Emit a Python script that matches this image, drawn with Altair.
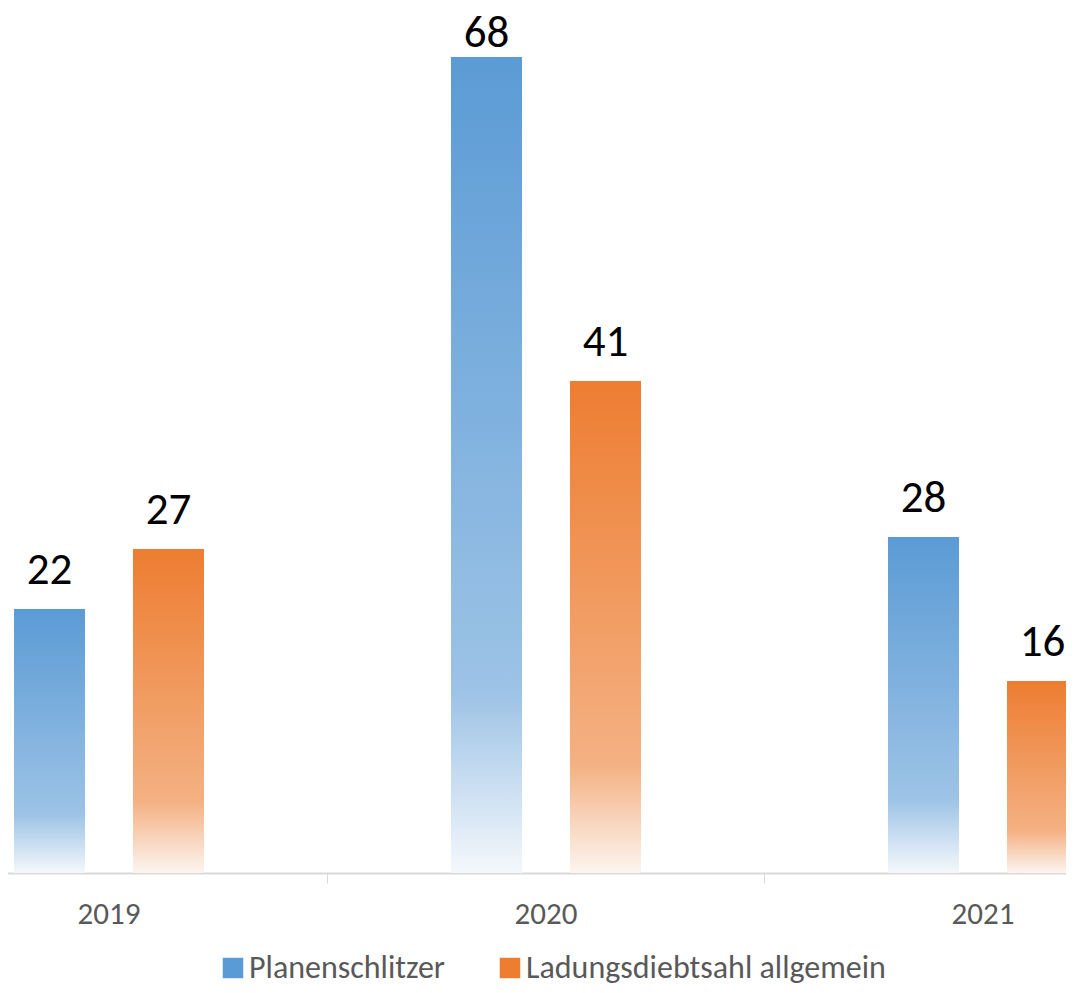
import altair as alt
import pandas as pd

years = ["2019", "2020", "2021"]
series_names = ["Planenschlitzer", "Ladungsdiebtsahl allgemein"]
planenschlitzer = [22, 68, 28]
ladungsdiebstahl = [27, 41, 16]
series_colors = ["#5B9BD5", "#ED7D31"]

rows = []
for yr, a, b in zip(years, planenschlitzer, ladungsdiebstahl):
    rows.append({"Jahr": yr, "Serie": series_names[0], "Wert": a})
    rows.append({"Jahr": yr, "Serie": series_names[1], "Wert": b})
df = pd.DataFrame(rows)

FONT = "Carlito, Calibri, Lato, sans-serif"
Y_MAX = 72.083          # top of the value axis
LABEL_GAP = 2.08        # gap between bar top and label baseline, in axis units
LABEL_CEIL = 68.83      # labels are kept below this level (inside the plot)

x_enc = alt.X(
    "Jahr:N", sort=years,
    scale=alt.Scale(domain=years, range=[-118, 1193], paddingInner=0, paddingOuter=0),
    axis=alt.Axis(title=None, labelAngle=0, domainColor="#D9D9D9", domainWidth=2,
                  tickColor="#D9D9D9", tickWidth=1, tickSize=10, tickBand="extent",
                  labelFontSize=31, labelColor="#595959", labelFont=FONT, labelPadding=16,
                  grid=False),
)
xoff_enc = alt.XOffset(
    "Serie:N", sort=series_names,
    scale=alt.Scale(domain=series_names, range=[124, 314], paddingInner=0.403, paddingOuter=0),
)
y_scale = alt.Scale(domain=[0, Y_MAX], nice=False, zero=True)
y_enc = alt.Y("Wert:Q", scale=y_scale, axis=None)


def grad(c0, c1, c2):
    return alt.LinearGradient(
        gradient="linear", x1=0, y1=0, x2=0, y2=1,
        stops=[alt.GradientStop(color=c0, offset=0),
               alt.GradientStop(color=c1, offset=0.78),
               alt.GradientStop(color=c2, offset=1)],
    )


base = alt.Chart(df)

bars_blue = base.transform_filter(alt.datum.Serie == series_names[0]).mark_bar(
    color=grad("#5B9BD5", "#9DC3E6", "#F4F8FC")
).encode(x=x_enc, xOffset=xoff_enc, y=y_enc)

bars_orange = base.transform_filter(alt.datum.Serie == series_names[1]).mark_bar(
    color=grad("#ED7D31", "#F4B183", "#FCF5F0")
).encode(x=x_enc, xOffset=xoff_enc, y=y_enc)

labels = base.transform_calculate(
    labelY=f"min(datum.Wert + {LABEL_GAP}, {LABEL_CEIL})"
).mark_text(baseline="alphabetic", fontSize=45, font=FONT, color="#000000").encode(
    x=x_enc, xOffset=xoff_enc,
    y=alt.Y("labelY:Q", scale=y_scale, axis=None),
    text="Wert:Q",
)

legend_layer = base.mark_square(opacity=0).encode(
    color=alt.Color(
        "Serie:N", sort=series_names,
        scale=alt.Scale(domain=series_names, range=series_colors),
        legend=alt.Legend(title=None, orient="none", legendX=209, legendY=944,
                          direction="horizontal", symbolType="square", symbolSize=420,
                          symbolStrokeWidth=0, symbolOpacity=1, labelFontSize=32,
                          labelFont=FONT, labelColor="#595959", labelOffset=0,
                          columnPadding=48, labelLimit=600),
    )
)

chart = alt.layer(bars_blue, bars_orange, labels, legend_layer).properties(
    width=1058, height=865,
    padding={"left": 0, "top": 0, "right": 0, "bottom": 112},
    autosize=alt.AutoSizeParams(type="none"),
).configure_view(strokeWidth=0)

chart.save("out.html", embed_options={"renderer": "svg", "actions": False})
